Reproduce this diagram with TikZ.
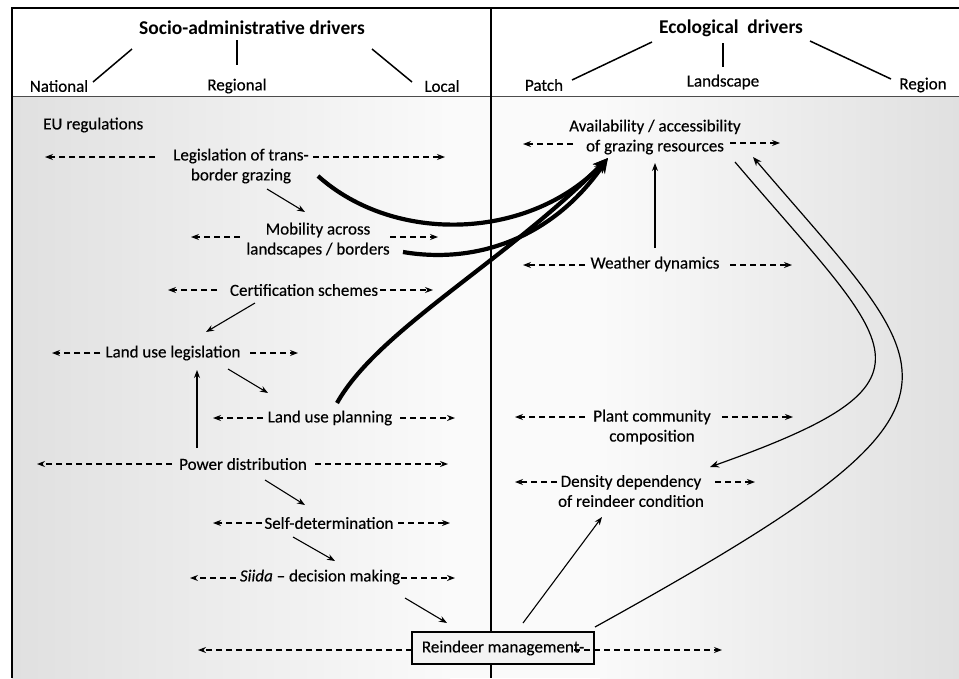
\documentclass[tikz,border=0pt]{standalone}
\usepackage{fontspec}
\setmainfont{Carlito}[UprightFeatures={FakeBold=0.35}, ItalicFeatures={FakeBold=0.35}]
\usetikzlibrary{arrows.meta,calc}
\definecolor{bgedge}{RGB}{224,224,224}
\definecolor{bgmid}{RGB}{250,250,250}
\definecolor{boxfill}{RGB}{243,243,243}
\begin{document}
\begin{tikzpicture}[x=1pt,y=-1pt,
  lbl/.style={font=\fontsize{17}{20}\selectfont, inner sep=0pt, align=center},
  hdr/.style={font=\fontsize{19.5}{23}\selectfont\bfseries, inner sep=0pt},
  dasharr/.style={dash pattern=on 6pt off 4pt, line width=1.1pt, -{Stealth[length=8pt,width=6pt]}},
  arr/.style={line width=1.1pt, -{Stealth[length=8pt,width=6pt]}},
  bigarr/.style={line width=4.2pt, -{Stealth[length=15pt,width=13pt]}},
  thinarr/.style={line width=1.2pt, -{Stealth[length=9pt,width=7pt]}},
  hline/.style={line width=1.5pt},
  rmbox/.style={draw, line width=2pt, fill=boxfill, minimum width=182pt, minimum height=32pt, inner sep=0pt, font=\fontsize{17}{20}\selectfont}
]
\useasboundingbox (0,0) rectangle (959,678);
% background
\shade[left color=bgedge, right color=bgmid] (12,96) rectangle (450,678);
\fill[bgmid] (449.5,96) rectangle (600.5,678);
\shade[left color=bgmid, right color=bgedge] (600,96) rectangle (959,678);
\fill[white] (12,8) rectangle (959,96);
% frame
\draw[line width=0.9pt, black!70] (12,96) -- (959,96);
\draw[line width=1.6pt] (12,678) -- (12,8) -- (959,8);
\draw[line width=1.2pt] (491,8) -- (491,678);

% header
\node[hdr] (hs) at (252,28) {Socio-administrative drivers};
\node[hdr] (he) at (731,28) {Ecological~~drivers};
\node[lbl] (nat) at (59,86) {National};
\node[lbl] (reg) at (237,86) {Regional};
\node[lbl] (loc) at (442,86) {Local};
\node[lbl] (pat) at (544,85) {Patch};
\node[lbl] (lan) at (723,82) {Landscape};
\node[lbl] (rgn) at (923,85) {Region};
\coordinate (hn1) at (93,82); \coordinate (hn2) at (132,49);
\coordinate (hr1) at (237,40); \coordinate (hr2) at (237,65);
\coordinate (hl1) at (372,49); \coordinate (hl2) at (412,82);
\coordinate (ep1) at (572,80); \coordinate (ep2) at (652,42);
\coordinate (el1) at (723,43); \coordinate (el2) at (723,67);
\coordinate (er1) at (810,41); \coordinate (er2) at (891,79);
\draw[hline] (hn1) -- (hn2);
\draw[hline] (hr1) -- (hr2);
\draw[hline] (hl1) -- (hl2);
\draw[hline] (ep1) -- (ep2);
\draw[hline] (el1) -- (el2);
\draw[hline] (er1) -- (er2);

% body nodes
\node[lbl, anchor=west] (eu) at (43,125) {EU regulations};
\node[lbl] (leg) at (241,166) {Legislation of trans-\\border grazing};
\node[lbl] (mob) at (318,240) {Mobility across\\landscapes / borders};
\node[lbl] (cert) at (304,290) {Certification schemes};
\node[lbl] (lul) at (173,353) {Land use legislation};
\node[lbl] (lup) at (330,418) {Land use planning};
\node[lbl] (pow) at (243,464) {Power distribution};
\node[lbl] (self) at (329,523) {Self-determination};
\node[lbl] (siida) at (320,577) {\textit{Siida} – decision making};
\node[rmbox] (rm) at (503,648) {Reindeer management-};
\node[lbl] (avail) at (655,137) {Availability / accessibility\\of grazing resources};
\node[lbl] (weather) at (655,264) {Weather dynamics};
\node[lbl] (plant) at (652,427) {Plant community\\composition};
\node[lbl] (dens) at (631,491) {Density dependency\\of reindeer condition};

% dashed scale arrows
\draw[dasharr] ($(leg)+(-86,-9)$) -- ($(leg)+(-196,-9)$);
\draw[dasharr] ($(leg)+(72,-9)$) -- ($(leg)+(204,-9)$);
\draw[dasharr] ($(mob)+(-78,-3)$) -- ($(mob)+(-127,-3)$);
\draw[dasharr] ($(mob)+(72,-3)$) -- ($(mob)+(120,-3)$);
\draw[dasharr] ($(cert)+(-87,0)$) -- ($(cert)+(-136,0)$);
\draw[dasharr] ($(cert)+(76,0)$) -- ($(cert)+(129,0)$);
\draw[dasharr] ($(lul.west)+(-5,0)$) -- ($(lul)+(-121,0)$);
\draw[dasharr] ($(lul)+(77,0)$) -- ($(lul)+(125,0)$);
\draw[dasharr] ($(lup)+(-67,0)$) -- ($(lup)+(-117,0)$);
\draw[dasharr] ($(lup)+(70,0)$) -- ($(lup)+(125,0)$);
\draw[dasharr] ($(pow)+(-71,0)$) -- ($(pow)+(-206,0)$);
\draw[dasharr] ($(pow)+(72,0)$) -- ($(pow)+(205,0)$);
\draw[dasharr] ($(self.west)+(-2,0)$) -- ($(self)+(-116,0)$);
\draw[dasharr] ($(self)+(69,0)$) -- ($(self)+(121,0)$);
\draw[dasharr] ($(siida.west)+(-4,1)$) -- ($(siida)+(-130,1)$);
\draw[dasharr] ($(siida.east)+(1,1)$) -- ($(siida)+(135,1)$);
\draw[dasharr] ($(rm)+(-91,2)$) -- ($(rm)+(-305,2)$);
\draw[dasharr] ($(rm)+(71,2)$) -- ($(rm)+(219,2)$);
\draw[dasharr] ($(avail)+(-82,7)$) -- ($(avail)+(-132,7)$);
\draw[dasharr] ($(avail)+(75,6)$) -- ($(avail)+(125,6)$);
\draw[dasharr] ($(weather)+(-70,1)$) -- ($(weather)+(-132,1)$);
\draw[dasharr] ($(weather)+(75,1)$) -- ($(weather)+(137,1)$);
\draw[dasharr] ($(plant)+(-67,-10)$) -- ($(plant)+(-137,-10)$);
\draw[dasharr] ($(plant)+(70,-10)$) -- ($(plant)+(141,-10)$);
\draw[dasharr] ($(dens)+(-74,-9)$) -- ($(dens)+(-116,-9)$);
\draw[dasharr] ($(dens)+(84,-9)$) -- ($(dens)+(124,-9)$);

% solid thin arrows
\draw[arr] ($(leg)+(26,23)$) -- ($(mob)+(-13,-28)$);
\draw[arr] ($(cert)+(-49,13)$) -- ($(lul)+(33,-21)$);
\draw[arr] ($(lul)+(55,16)$) -- ($(lup)+(-62,-25)$);
\draw[arr] ($(pow)+(-46,-16)$) -- ($(lul)+(24,17)$);
\draw[arr] ($(pow)+(22,16)$) -- ($(self)+(-24,-18)$);
\draw[arr] ($(self)+(-36,14)$) -- ($(siida)+(15,-16)$);
\draw[arr] ($(siida)+(85,21)$) -- ($(rm)+(-56,-25)$);
\draw[arr] ($(weather)+(0,-16)$) -- ($(avail)+(0,26)$);
\draw[arr] ($(rm)+(20,-25)$) -- ($(dens)+(-29,26)$);

% thick curved arrows to grazing resources
\draw[bigarr] ($(leg)+(77,10)$) .. controls (395,245) and (530,240) .. ($(avail)+(-47,21)$);
\draw[bigarr] ($(mob)+(85,12)$) .. controls (480,265) and (555,235) .. ($(avail)+(-47,21)$);
\draw[bigarr] ($(lup)+(7,-15)$) .. controls (378,330) and (505,262) .. ($(avail)+(-47,21)$);

% thin curved arrows
\draw[thinarr] ($(avail)+(80,25)$) .. controls (895,350) and (955,380) .. ($(dens)+(79,-24)$);
\draw[thinarr] ($(rm)+(92,-21)$) .. controls (1005,400) and (946,383) .. ($(avail)+(98,20)$);
\end{tikzpicture}
\end{document}
